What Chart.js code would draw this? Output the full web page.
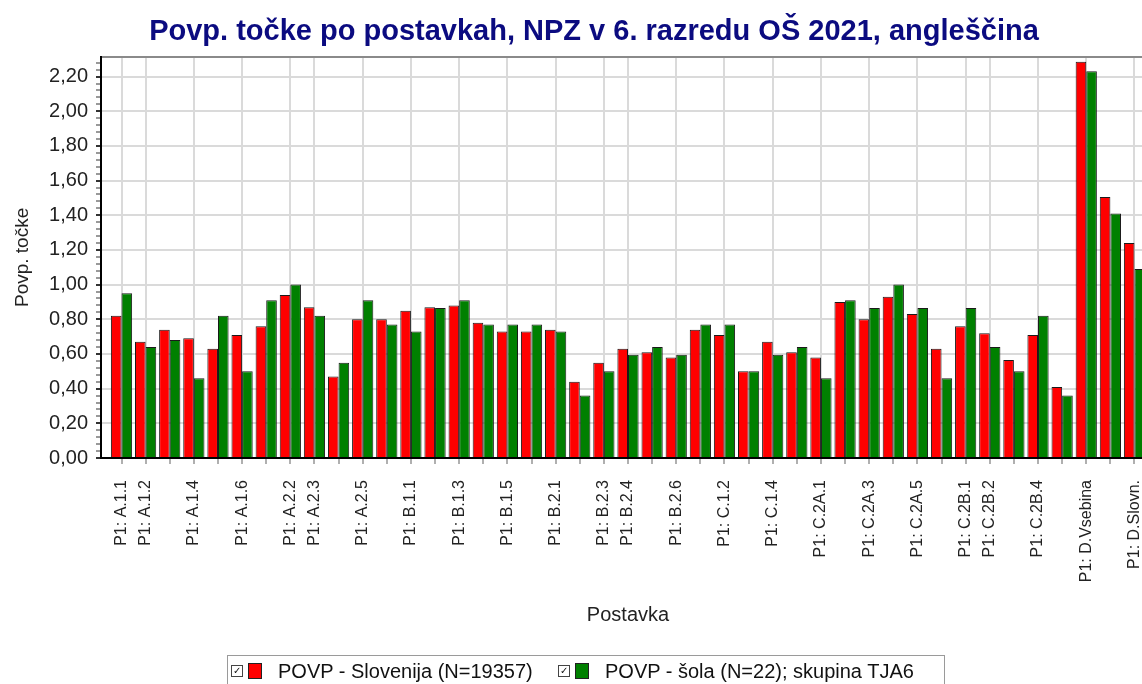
<!DOCTYPE html>
<html>
<head>
<meta charset="utf-8">
<script src="https://cdn.jsdelivr.net/npm/chart.js@4"></script>
<style>
    body { margin: 0; overflow: hidden; background: #fff; font-family: "Liberation Sans", Arial, sans-serif; }
    #okvir { position: relative; width: 1180px; height: 684px; }
    #legenda {
        position: absolute; left: 227px; top: 655px; width: 716px; height: 40px;
        border: 1px solid #9a9a9a; font-size: 20px; color: #111;
    }
    .postavka { position: absolute; top: 4px; height: 22px; line-height: 22px; white-space: nowrap; }
    .kljukica {
        display: inline-block; width: 10px; height: 10px; border: 1px solid #444; vertical-align: 4px;
        font-size: 10px; line-height: 10px; text-align: center; margin-right: 5px;
    }
    .barva { display: inline-block; width: 12px; height: 14px; border: 1px solid #222; vertical-align: -1px; margin-right: 16px; }
</style>
</head>
<body>
<div id="okvir">
    <canvas id="graf" width="1180" height="684"></canvas>
    <div id="legenda"></div>
</div>
<script>
const postavke = ['P1: A.1.1','P1: A.1.2','P1: A.1.3','P1: A.1.4','P1: A.1.5','P1: A.1.6',
    'P1: A.2.1','P1: A.2.2','P1: A.2.3','P1: A.2.4','P1: A.2.5','P1: A.2.6',
    'P1: B.1.1','P1: B.1.2','P1: B.1.3','P1: B.1.4','P1: B.1.5','P1: B.1.6',
    'P1: B.2.1','P1: B.2.2','P1: B.2.3','P1: B.2.4','P1: B.2.5','P1: B.2.6',
    'P1: C.1.1','P1: C.1.2','P1: C.1.3','P1: C.1.4','P1: C.1.5',
    'P1: C.2A.1','P1: C.2A.2','P1: C.2A.3','P1: C.2A.4','P1: C.2A.5','P1: C.2A.6',
    'P1: C.2B.1','P1: C.2B.2','P1: C.2B.3','P1: C.2B.4','P1: C.2B.5',
    'P1: D.Vsebina','P1: D.Organiz.','P1: D.Slovn.']

// oznake, ki so na osi x vidne
const prikazaneOznake = ['P1: A.1.1','P1: A.1.2','P1: A.1.4','P1: A.1.6','P1: A.2.2','P1: A.2.3','P1: A.2.5',
    'P1: B.1.1','P1: B.1.3','P1: B.1.5','P1: B.2.1','P1: B.2.3','P1: B.2.4','P1: B.2.6',
    'P1: C.1.2','P1: C.1.4','P1: C.2A.1','P1: C.2A.3','P1: C.2A.5','P1: C.2B.1','P1: C.2B.2','P1: C.2B.4',
    'P1: D.Vsebina','P1: D.Slovn.']

const povpSlovenija = [0.82,0.67,0.74,0.69,0.63,0.71, 0.76,0.94,0.87,0.47,0.80,0.80,
    0.85,0.87,0.88,0.78,0.73,0.73, 0.74,0.44,0.55,0.63,0.61,0.58,
    0.74,0.71,0.50,0.67,0.61, 0.58,0.90,0.80,0.93,0.83,0.63,
    0.76,0.72,0.565,0.71,0.41, 2.285,1.505,1.24]
const povpSola = [0.95,0.64,0.68,0.46,0.82,0.50, 0.91,1.00,0.82,0.55,0.91,0.77,
    0.73,0.865,0.91,0.77,0.77,0.77, 0.73,0.36,0.50,0.595,0.64,0.595,
    0.77,0.77,0.50,0.595,0.64, 0.46,0.91,0.865,1.00,0.865,0.46,
    0.865,0.64,0.50,0.82,0.36, 2.23,1.41,1.09]

const oznakeY = [0, 0.2, 0.4, 0.6, 0.8, 1.0, 1.2, 1.4, 1.6, 1.8, 2.0, 2.2]
const nizi = [
    { label: 'POVP - Slovenija (N=19357)', barva: '#ff0000', podatki: povpSlovenija },
    { label: 'POVP - šola (N=22); skupina TJA6', barva: '#008000', podatki: povpSola }
]

const yMax = 2.314
const xMin = -0.85
const xMax = 42.85
const pisava = 'Liberation Sans, Arial'

function oblikuj(v) {
    return v.toFixed(2).replace('.', ',')
}

// legenda
const legenda = document.getElementById('legenda')
const zamikiLegende = [3, 330]
nizi.forEach((n, i) => {
    let el = document.createElement('div')
    el.className = 'postavka'
    el.style.left = zamikiLegende[i] + 'px'
    el.innerHTML = '<span class="kljukica">&#10003;</span><span class="barva" style="background:' + n.barva + '"></span>' + n.label
    legenda.appendChild(el)
})

const ctx = document.getElementById('graf').getContext('2d')
const graf = new Chart(ctx, {
    type: 'bar',
    data: {
        datasets: nizi.map(n => ({
            label: n.label,
            data: n.podatki.map((v, i) => ({ x: i, y: v })),
            backgroundColor: n.barva,
            borderColor: '#1a1a1a',
            borderWidth: 1,
            borderSkipped: 'bottom',
            categoryPercentage: 0.88,
            barPercentage: 1.0
        }))
    },
    options: {
        responsive: false,
        animation: false,
        devicePixelRatio: 1,
        layout: { padding: { left: 33, right: 25, top: 0, bottom: 54 } },
        plugins: {
            legend: { display: false },
            tooltip: { enabled: false },
            title: {
                display: true,
                text: 'Povp. točke po postavkah, NPZ v 6. razredu OŠ 2021, angleščina',
                color: '#0b0b80',
                font: { family: pisava, size: 29, weight: 'bold' },
                padding: { top: 15, bottom: 7 }
            }
        },
        scales: {
            x: {
                type: 'linear',
                min: xMin,
                max: xMax,
                offset: false,
                afterBuildTicks: s => { s.ticks = postavke.map((p, i) => ({ value: i })) },
                afterFit: s => { s.height = 172 },
                ticks: {
                    autoSkip: false,
                    maxRotation: 90,
                    minRotation: 90,
                    padding: 16,
                    color: '#222',
                    font: { family: pisava, size: 16 },
                    callback: v => prikazaneOznake.includes(postavke[v]) ? postavke[v] : ''
                },
                grid: {
                    offset: false,
                    lineWidth: 2,
                    tickLength: 6,
                    color: c => c.tick && prikazaneOznake.includes(postavke[c.tick.value]) ? '#dadada' : 'rgba(0,0,0,0)',
                    tickColor: '#b0b0b0',
                    tickWidth: 2
                },
                border: { color: '#000', width: 2 },
                title: {
                    display: true,
                    text: 'Postavka',
                    color: '#222',
                    font: { family: pisava, size: 20 },
                    padding: { top: 0, bottom: 3 }
                }
            },
            xZgoraj: {
                type: 'linear',
                position: 'top',
                min: xMin,
                max: xMax,
                offset: false,
                ticks: { display: false },
                grid: { display: false, drawTicks: false },
                border: { color: '#8a8a8a', width: 2 }
            },
            y: {
                min: 0,
                max: yMax,
                afterFit: s => { s.width = 68 },
                afterBuildTicks: s => {
                    let t = []
                    oznakeY.forEach(v => {
                        t.push({ value: v, major: true })
                        for (let k = 1; k < 5; k++) {
                            let m = v + k * 0.04
                            if (m < yMax) t.push({ value: m, major: false })
                        }
                    })
                    s.ticks = t
                },
                ticks: {
                    autoSkip: false,
                    padding: 8,
                    color: '#222',
                    font: { family: pisava, size: 20 },
                    callback: function(v, i, t) { return t[i].major ? oblikuj(v) : '' }
                },
                grid: {
                    lineWidth: 2,
                    tickLength: 5,
                    color: c => c.tick && c.tick.major ? '#dadada' : 'rgba(0,0,0,0)',
                    tickColor: c => c.tick && c.tick.major ? '#333' : '#999',
                    tickWidth: 2
                },
                border: { color: '#000', width: 2 },
                title: {
                    display: true,
                    text: 'Povp. točke',
                    color: '#222',
                    font: { family: pisava, size: 19 },
                    padding: { top: -22, bottom: 0 }
                }
            }
        }
    }
})
</script>
</body>
</html>
